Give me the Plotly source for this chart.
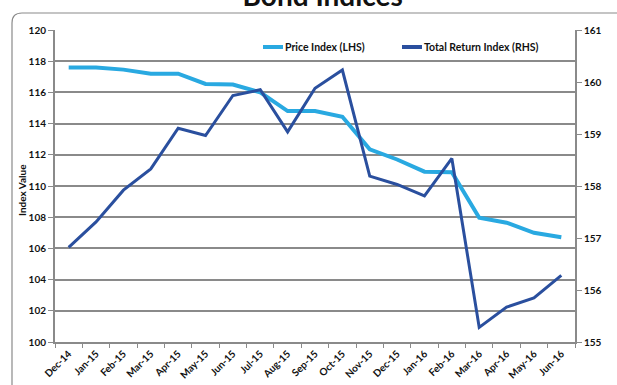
import plotly.graph_objects as go

months = ["Dec-14", "Jan-15", "Feb-15", "Mar-15", "Apr-15", "May-15", "Jun-15",
          "Jul-15", "Aug-15", "Sep-15", "Oct-15", "Nov-15", "Dec-15", "Jan-16",
          "Feb-16", "Mar-16", "Apr-16", "May-16", "Jun-16"]

price_index = [117.6, 117.6, 117.46, 117.2, 117.2, 116.54, 116.5, 116.0, 114.8,
               114.8, 114.44, 112.35, 111.7, 110.92, 110.88, 107.97, 107.65,
               107.0, 106.71]

total_return = [156.82, 157.31, 157.92, 158.33, 159.11, 158.97, 159.74, 159.85,
                159.04, 159.88, 160.23, 158.19, 158.03, 157.81, 158.53, 155.28,
                155.67, 155.85, 156.28]

lhs_ticks = list(range(100, 121, 2))
rhs_ticks = list(range(155, 162))

price_name = "Price Index (LHS)"
total_name = "Total Return Index (RHS)"

LIGHT = "#29a9e1"
DARK = "#2a4f9e"
GRID = "#8a8a8a"
FONT = "Lato, sans-serif"


def cfont(size):
    return dict(family=FONT, size=size, color="#111", weight="bold")


W, H = 617, 385
L, R, T, B = 55, 42, 30, 43


def px_x(px):
    return (px - L) / (W - L - R)


def px_y(py):
    return (H - B - py) / (H - T - B)


fig = go.Figure()
fig.add_trace(go.Scatter(x=months, y=price_index, name=price_name, mode="lines",
                         line=dict(color=LIGHT, width=4), yaxis="y",
                         showlegend=False))
fig.add_trace(go.Scatter(x=months, y=total_return, name=total_name, mode="lines",
                         line=dict(color=DARK, width=3), yaxis="y2",
                         showlegend=False))

# rounded frame around the chart panel
x0, y0, rad = px_x(12), px_y(13), 10
fig.add_shape(type="path", xref="paper", yref="paper",
              path=(f"M {x0} {px_y(400)} L {x0} {px_y(13 + rad)} "
                    f"Q {x0} {y0} {px_x(12 + rad)} {y0} L {px_x(640)} {y0}"),
              line=dict(color="#8a8a8a", width=1.2), layer="below")

# legend entries
legend_items = [(price_name, LIGHT, 263), (total_name, DARK, 402)]
for name, color, start in legend_items:
    ly = px_y(47)
    fig.add_shape(type="line", xref="paper", yref="paper",
                  x0=px_x(start), x1=px_x(start + 20), y0=ly, y1=ly,
                  line=dict(color=color, width=4))
    fig.add_annotation(text=name, xref="paper", yref="paper",
                       x=px_x(start + 20), y=ly, xanchor="left", yanchor="middle",
                       showarrow=False, font=cfont(10.5))

# vertical axis title
fig.add_annotation(text="Index Value", xref="paper", yref="paper",
                   x=px_x(22), y=px_y(190), textangle=-90,
                   xanchor="center", yanchor="middle", showarrow=False,
                   font=cfont(10))

fig.update_layout(
    width=W, height=H,
    margin=dict(l=L, r=R, t=T, b=B),
    paper_bgcolor="white", plot_bgcolor="white",
    title=dict(text="Bond Indices", x=0.523, xanchor="center",
               y=0.985, yref="container", yanchor="bottom",
               font=dict(family=FONT, size=28, color="#111", weight="bold")),
    font=dict(family=FONT, color="#111"),
    xaxis=dict(
        tickangle=-45, tickson="boundaries", ticks="outside", ticklen=4,
        tickcolor=GRID, showline=True, linecolor=GRID, linewidth=2,
        showgrid=False, range=[-0.5, len(months) - 0.5], automargin=False,
        tickfont=cfont(10),
    ),
    yaxis=dict(
        range=[100, 120], tickvals=lhs_ticks,
        showgrid=True, gridcolor=GRID, gridwidth=2,
        showline=True, linecolor=GRID, linewidth=2,
        ticks="outside", ticklen=5, tickcolor=GRID,
        tickfont=cfont(10), automargin=False, zeroline=False,
    ),
    yaxis2=dict(
        range=[155, 161], tickvals=rhs_ticks,
        overlaying="y", side="right", showgrid=False,
        showline=True, linecolor=GRID, linewidth=2,
        ticks="outside", ticklen=5, tickcolor=GRID,
        tickfont=cfont(10), automargin=False, zeroline=False,
    ),
)

fig.write_html("out.html")
